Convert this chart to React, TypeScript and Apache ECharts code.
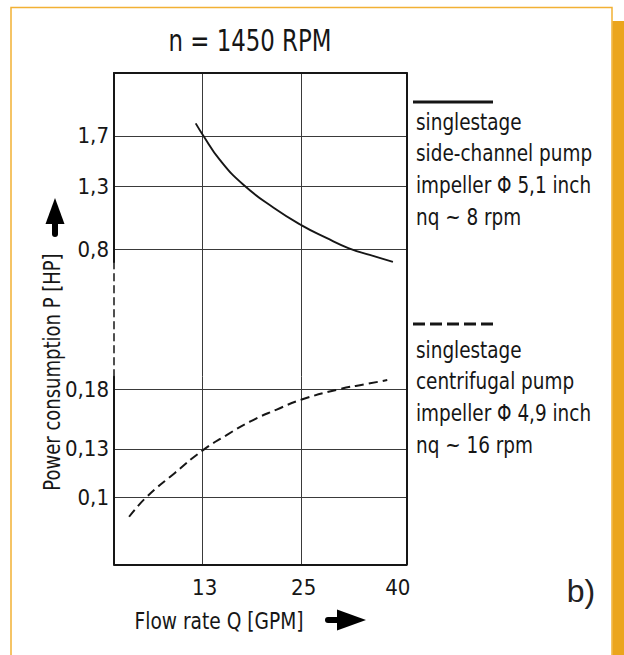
import React, { useEffect, useRef } from "react";
import * as echarts from "echarts";

// ---- data ----
const sideChannelQ = [12.3, 13, 14.8, 17.5, 21.2, 25, 28.6, 32, 35.5, 39.5]; // GPM
const sideChannelP = [1.8, 1.71, 1.51, 1.31, 1.13, 0.99, 0.89, 0.81, 0.755, 0.7]; // HP
const centrifugalQ = [6.6, 7.9, 10.3, 13, 15.5, 18.3, 21.6, 25, 30.7, 35, 38.5];
const centrifugalP = [0.09, 0.1, 0.114, 0.129, 0.14, 0.151, 0.161, 0.17, 0.18, 0.185, 0.189];

const xTickLabels = [13, 25, 40];
const xGridLines = [13, 25];
const yUpperTicks = [0.8, 1.3, 1.7];
const yLowerTicks = [0.1, 0.13, 0.18];

const legendSideChannel = ["singlestage", "side-channel pump", "impeller \u03A6 5,1 inch", "nq ~ 8 rpm"];
const legendCentrifugal = ["singlestage", "centrifugal pump", "impeller \u03A6 4,9 inch", "nq ~ 16 rpm"];

const FONT = "'DejaVu Sans Condensed', 'Liberation Sans Narrow', sans-serif";
const INK = "#161616";
const GRIDC = "#3a3a3a";

// axis scales: x in sqrt(Q), lower y in log10(P), upper y linear
const X_MIN = 2.3563;
const X_MAX = 6.4788;
const YU_MIN = 0.699;
const YU_MAX = 2.2;
const YL_MIN = -1.1579;
const YL_MAX = -0.7157;

const fmtComma = (v: number) => String(Math.round(v * 100) / 100).replace(".", ",");

export default function App() {
  const ref = useRef<HTMLDivElement>(null);
  useEffect(() => {
    if (!ref.current) return;
    const chart = echarts.init(ref.current, null, { renderer: "svg" });
    const left = 114;
    const right = 217.3;
    const grids = [
      { left, right, top: 73, height: 189 },
      { left, right, top: 262, height: 114.7 },
      { left, right, top: 376.7, height: 187.6 },
    ].map((g) => ({ ...g, containLabel: false, outerBoundsMode: "none" }));

    const frameLine = { show: true, onZero: false, lineStyle: { color: INK, width: 2 } };
    const split = { show: true, lineStyle: { color: GRIDC, width: 1 } };
    const sq = (a: number[]) => a.map((v) => Math.sqrt(v));
    const labelStyle = { fontFamily: FONT, fontSize: 22, color: INK };

    const xBase = (gi: number) => ({
      type: "value",
      gridIndex: gi,
      min: X_MIN,
      max: X_MAX,
      axisTick: { show: false, customValues: sq(xGridLines) },
      splitLine: split,
    });

    const rightLine = (gi: number, min: number, max: number) => ({
      type: "value",
      gridIndex: gi,
      position: "right",
      min,
      max,
      axisLine: frameLine,
      axisTick: { show: false },
      axisLabel: { show: false },
      splitLine: { show: false },
    });

    const option: any = {
      animation: false,
      grid: grids,
      xAxis: [
        { ...xBase(0), position: "top", axisLine: frameLine, axisLabel: { show: false } },
        { ...xBase(1), position: "bottom", axisLine: { show: false }, axisLabel: { show: false } },
        {
          ...xBase(2),
          position: "bottom",
          axisLine: frameLine,
          axisLabel: {
            show: true,
            customValues: sq(xTickLabels),
            formatter: (v: number) => String(Math.round(v * v)),
            ...labelStyle,
            margin: 12,
            padding: [0, 0, 0, 4],
          },
        },
      ],
      yAxis: [
        {
          type: "value",
          gridIndex: 0,
          position: "left",
          min: YU_MIN,
          max: YU_MAX,
          axisLine: frameLine,
          axisTick: { show: false, customValues: yUpperTicks },
          axisLabel: {
            customValues: yUpperTicks,
            formatter: (v: number) => fmtComma(v),
            ...labelStyle,
            margin: 5,
          },
          splitLine: split,
        },
        rightLine(0, YU_MIN, YU_MAX),
        {
          type: "value",
          gridIndex: 1,
          position: "left",
          min: 0,
          max: 1,
          axisLine: { show: true, onZero: false, lineStyle: { color: INK, width: 1.5, type: [7, 5] } },
          axisTick: { show: false },
          axisLabel: { show: false },
          splitLine: { show: false },
        },
        rightLine(1, 0, 1),
        {
          type: "value",
          gridIndex: 2,
          position: "left",
          min: YL_MIN,
          max: YL_MAX,
          axisLine: frameLine,
          axisTick: { show: false, customValues: yLowerTicks.map((v) => Math.log10(v)) },
          axisLabel: {
            customValues: yLowerTicks.map((v) => Math.log10(v)),
            formatter: (v: number) => fmtComma(Math.pow(10, v)),
            ...labelStyle,
            margin: 5,
          },
          splitLine: split,
        },
        rightLine(2, YL_MIN, YL_MAX),
      ],
      series: [
        {
          type: "line",
          name: "side-channel pump",
          xAxisIndex: 0,
          yAxisIndex: 0,
          data: sideChannelQ.map((q, i) => [Math.sqrt(q), sideChannelP[i]]),
          smooth: 0.5,
          showSymbol: false,
          clip: false,
          lineStyle: { color: INK, width: 1.9 },
        },
        {
          type: "line",
          name: "centrifugal pump",
          xAxisIndex: 2,
          yAxisIndex: 4,
          data: centrifugalQ.map((q, i) => [Math.sqrt(q), Math.log10(centrifugalP[i])]),
          smooth: 0.5,
          showSymbol: false,
          clip: false,
          lineStyle: { color: INK, width: 2, type: [9, 5] },
        },
      ],
      graphic: [
        // orange frame
        {
          type: "polyline",
          shape: { points: [[11, 660], [11, 7.5], [612, 7.5], [612, 660]] },
          style: { stroke: "#F2B134", lineWidth: 1.5, fill: "none" },
          silent: true,
        },
        { type: "rect", shape: { x: 612.5, y: 21, width: 12, height: 640 }, style: { fill: "#EBA51D" }, silent: true },
        // title
        {
          type: "text",
          x: 250,
          y: 41,
          scaleX: 0.82,
          style: { text: "n = 1450 RPM", fontFamily: FONT, fontSize: 31, fill: INK, align: "center", verticalAlign: "middle" },
        },
        // legend samples
        { type: "line", shape: { x1: 413, y1: 102, x2: 493, y2: 102 }, style: { stroke: INK, lineWidth: 3 } },
        {
          type: "text",
          x: 416,
          y: 106,
          scaleX: 0.89,
          style: { text: legendSideChannel.join("\n"), fontFamily: FONT, fontSize: 23, lineHeight: 31.7, fill: INK, align: "left", verticalAlign: "top" },
        },
        { type: "line", shape: { x1: 413, y1: 324, x2: 493, y2: 324 }, style: { stroke: INK, lineWidth: 3, lineDash: [12, 5] } },
        {
          type: "text",
          x: 416,
          y: 334,
          scaleX: 0.89,
          style: { text: legendCentrifugal.join("\n"), fontFamily: FONT, fontSize: 23, lineHeight: 31.7, fill: INK, align: "left", verticalAlign: "top" },
        },
        // axis titles
        {
          type: "text",
          x: 52,
          y: 372,
          rotation: Math.PI / 2,
          scaleX: 0.87,
          style: { text: "Power consumption P [HP]", fontFamily: FONT, fontSize: 23, fill: INK, align: "center", verticalAlign: "middle" },
        },
        {
          type: "text",
          x: 219,
          y: 621,
          scaleX: 0.9,
          style: { text: "Flow rate Q [GPM]", fontFamily: FONT, fontSize: 23, fill: INK, align: "center", verticalAlign: "middle" },
        },
        // arrows
        { type: "polygon", shape: { points: [[55, 198], [45.5, 224], [64.5, 224]] }, style: { fill: "#000" } },
        { type: "line", shape: { x1: 55, y1: 220, x2: 55, y2: 234 }, style: { stroke: "#000", lineWidth: 6, lineCap: "round" } },
        { type: "polygon", shape: { points: [[337, 609.5], [366, 620], [337, 630.5]] }, style: { fill: "#000" } },
        { type: "line", shape: { x1: 328, y1: 620, x2: 342, y2: 620 }, style: { stroke: "#000", lineWidth: 6, lineCap: "round" } },
        // panel tag
        {
          type: "text",
          x: 581,
          y: 591,
          style: { text: "b)", fontFamily: "'Liberation Sans', Arial, sans-serif", fontSize: 32, fill: "#222", align: "center", verticalAlign: "middle" },
        },
      ],
    };
    chart.setOption(option);
    return () => chart.dispose();
  }, []);
  return <div ref={ref} style={{ position: "fixed", left: 0, top: 0, width: 624, height: 655, background: "#fff" }} />;
}
